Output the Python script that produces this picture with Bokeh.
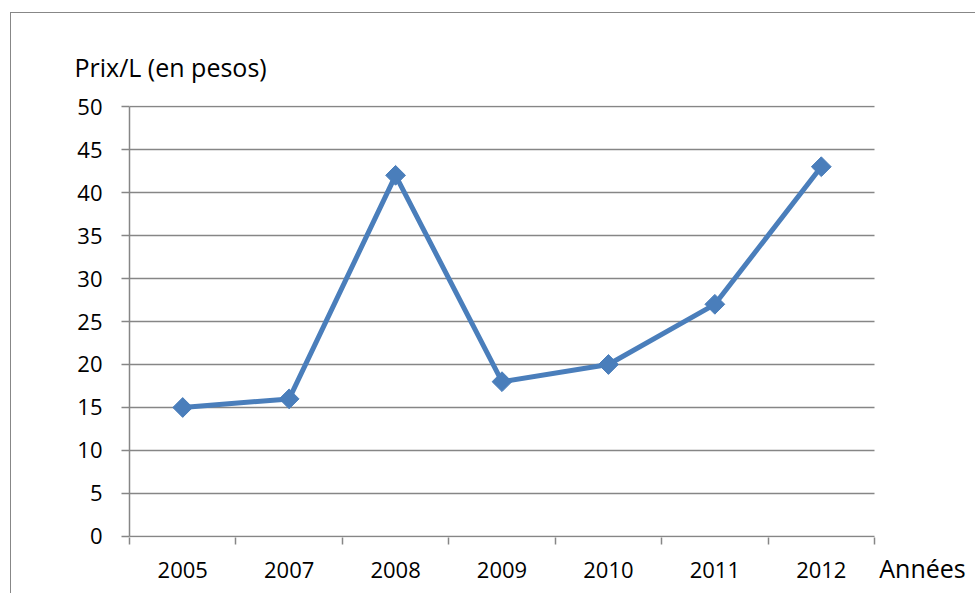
from math import pi
from bokeh.plotting import figure
from bokeh.models import FixedTicker, Range1d, Title
from bokeh.embed import file_html
from bokeh.resources import INLINE

years = ["2005", "2007", "2008", "2009", "2010", "2011", "2012"]
prices = [15, 16, 42, 18, 20, 27, 43]
y_ticks = [0, 5, 10, 15, 20, 25, 30, 35, 40, 45, 50]
y_title = "Prix/L (en pesos)"
x_title = "Années"

FONT = "Open Sans"
GRAY = "#868686"
BLUE = "#4a7ebb"
FS = "22px"
FS_TITLE = "25px"

n = len(years)
xs = [i + 0.5 for i in range(n)]
x_end = n + 0.451          # frame continues right; axis title is centred on its end
y_pad = 0.12               # 1px so that edge gridlines are not clipped

p = figure(width=965, height=581, output_backend="svg", toolbar_location=None,
           x_range=Range1d(0, x_end),
           y_range=Range1d(-y_pad, max(y_ticks) + y_pad),
           min_border_left=118, min_border_right=54, min_border_top=92,
           min_border_bottom=57)
p.margin = (12, 0, 0, 10)
p.styles = {"border-left": "1px solid #878787", "border-top": "1px solid #878787"}
p.outline_line_color = None
p.background_fill_color = "white"
p.border_fill_color = "white"

# gridlines only over the categories (line at 0 is the category axis line)
p.xgrid.visible = False
p.ygrid.visible = False
p.segment(x0=0, x1=n, y0=y_ticks, y1=y_ticks, line_color=GRAY, line_width=1.5)

# y axis
p.yaxis.ticker = FixedTicker(ticks=y_ticks, minor_ticks=[])
p.yaxis.bounds = (0, max(y_ticks))
p.yaxis.axis_line_color = GRAY
p.yaxis.axis_line_width = 1.5
p.yaxis.major_tick_line_color = GRAY
p.yaxis.major_tick_line_width = 1.5
p.yaxis.major_tick_out = 8
p.yaxis.major_tick_in = 0
p.yaxis.minor_tick_line_color = None
p.yaxis.major_label_standoff = 19
p.yaxis.major_label_text_font = FONT
p.yaxis.major_label_text_font_size = FS
p.yaxis.major_label_text_color = "black"

# x axis: labels at category centres, boundary ticks as minor ticks
p.xaxis.ticker = FixedTicker(ticks=xs, minor_ticks=list(range(n + 1)))
p.xaxis.major_label_overrides = dict(zip(xs, years))
p.xaxis.axis_line_color = None
p.xaxis.major_tick_line_color = None
p.xaxis.major_tick_out = 0
p.xaxis.major_tick_in = 0
p.xaxis.minor_tick_line_color = GRAY
p.xaxis.minor_tick_line_width = 1.5
p.xaxis.minor_tick_out = 7
p.xaxis.minor_tick_in = 0
p.xaxis.major_label_standoff = 17
p.xaxis.major_label_text_font = FONT
p.xaxis.major_label_text_font_size = FS
p.xaxis.major_label_text_color = "black"
p.xaxis.axis_label = x_title
p.xaxis.axis_label_align = "end"
p.xaxis.axis_label_standoff = -30
p.xaxis.axis_label_text_font = FONT
p.xaxis.axis_label_text_font_size = FS_TITLE
p.xaxis.axis_label_text_font_style = "normal"
p.xaxis.axis_label_text_color = "black"

# data
p.line(xs, prices, line_color=BLUE, line_width=5)
p.scatter(xs, prices, marker="square", size=14, angle=pi / 4,
          fill_color=BLUE, line_color=BLUE)

# value axis title
p.add_layout(Title(text=y_title, align="left", offset=-55, standoff=43,
                   text_font=FONT, text_font_size=FS_TITLE, text_font_style="normal",
                   text_color="black"), "above")

open("out.html", "w").write(file_html(p, INLINE))
